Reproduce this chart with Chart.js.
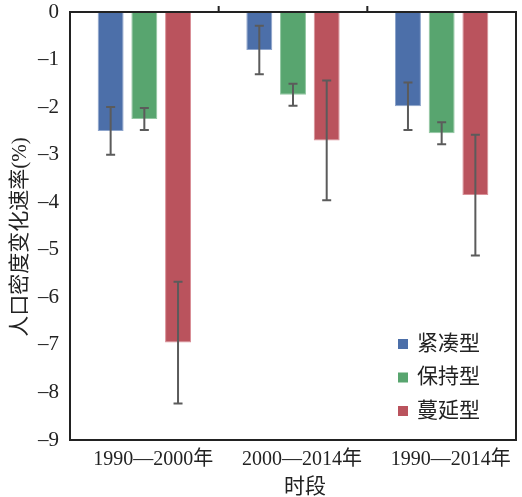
<!DOCTYPE html>
<html>
<head>
<meta charset="utf-8">
<script src="https://cdn.jsdelivr.net/npm/chart.js@4.4.1/dist/chart.umd.min.js"></script>
<style>
  html, body { margin: 0; padding: 0; background: #fff; }
  #wrap { width: 522px; height: 497px; }
</style>
</head>
<body>
<div id="wrap"><canvas id="chart" width="522" height="497"></canvas></div>
<script>
// periods on the x axis
const periods = ['1990\u20142000年', '2000\u20142014年', '1990\u20142014年'];
// series names
const seriesNames = ['紧凑型', '保持型', '蔓延型'];
// mean change rate (%) per series
const compactVals = [-2.5, -0.8, -1.98];
const keepVals = [-2.25, -1.74, -2.55];
const sprawlVals = [-6.95, -2.7, -3.85];
// error bar half-widths
const compactErr = [0.5, 0.51, 0.5];
const keepErr = [0.23, 0.23, 0.23];
const sprawlErr = [1.28, 1.26, 1.27];
// y ticks
const yTicks = [0, -1, -2, -3, -4, -5, -6, -7, -8, -9];

const yTitle = '人口密度变化速率(%)';
const xTitle = '时段';

const colors = ['#4c6fa9', '#58a56f', '#ba535d'];
const edges = ['#8ea5cc', '#93c7a2', '#d99098'];
const serif = "'Liberation Serif', 'Noto Sans CJK SC', serif";

const values = [compactVals, keepVals, sprawlVals];
const errors = [compactErr, keepErr, sprawlErr];

// error bars, drawn from the bar scales
const errorBars = {
  id: 'errorBars',
  afterDatasetsDraw(chart) {
    const ctx = chart.ctx;
    const y = chart.scales.y;
    ctx.save();
    ctx.strokeStyle = '#5b5b5b';
    ctx.lineWidth = 2;
    chart.data.datasets.forEach((ds, i) => {
      const meta = chart.getDatasetMeta(i);
      meta.data.forEach((bar, j) => {
        const v = ds.data[j], e = errors[i][j];
        const top = y.getPixelForValue(v + e);
        const bot = y.getPixelForValue(v - e);
        ctx.beginPath();
        ctx.moveTo(bar.x, top); ctx.lineTo(bar.x, bot);
        ctx.moveTo(bar.x - 4.5, top); ctx.lineTo(bar.x + 4.5, top);
        ctx.moveTo(bar.x - 4.5, bot); ctx.lineTo(bar.x + 4.5, bot);
        ctx.stroke();
      });
    });
    ctx.restore();
  }
};

// box, top ticks, titles and inner legend
const decor = {
  id: 'decor',
  afterDraw(chart) {
    const ctx = chart.ctx;
    const a = chart.chartArea;
    const x = chart.scales.x;
    ctx.save();
    ctx.strokeStyle = '#222';
    ctx.lineWidth = 2;
    ctx.beginPath();
    ctx.moveTo(a.left, a.top); ctx.lineTo(a.right, a.top);
    ctx.lineTo(a.right, a.bottom);
    for (let i = 0; i < periods.length - 1; i++) {
      const bx = (x.getPixelForValue(i) + x.getPixelForValue(i + 1)) / 2;
      ctx.moveTo(bx, a.top); ctx.lineTo(bx, a.top - 6);
    }
    ctx.stroke();

    ctx.fillStyle = '#222';
    ctx.font = '21px ' + serif;
    ctx.textAlign = 'center';
    ctx.textBaseline = 'middle';
    ctx.save();
    ctx.translate(20, 237);
    ctx.rotate(-Math.PI / 2);
    ctx.fillText(yTitle, 0, 0);
    ctx.restore();
    ctx.fillText(xTitle, (a.left + a.right) / 2 + 12, 487);

    ctx.textAlign = 'left';
    chart.data.datasets.forEach((ds, i) => {
      const cy = a.bottom - 96 + i * 33.5;
      ctx.fillStyle = ds.backgroundColor;
      ctx.fillRect(a.right - 118, cy - 5, 10, 10);
      ctx.fillStyle = '#222';
      ctx.fillText(ds.label, a.right - 99, cy);
    });
    ctx.restore();
  }
};

new Chart(document.getElementById('chart'), {
  type: 'bar',
  data: {
    labels: periods,
    datasets: seriesNames.map((name, i) => ({
      label: name,
      data: values[i],
      backgroundColor: colors[i],
      borderColor: edges[i],
      borderWidth: 1,
      borderSkipped: false,
      barPercentage: 0.77,
      categoryPercentage: 0.68
    }))
  },
  options: {
    responsive: false,
    animation: false,
    layout: { padding: { top: 12, right: 6, left: 0, bottom: 0 } },
    plugins: { legend: { display: false }, tooltip: { enabled: false } },
    scales: {
      x: {
        grid: { display: false, drawTicks: false },
        border: { color: '#222', width: 2 },
        ticks: { color: '#222', font: { family: serif, size: 20 }, padding: 8, labelOffset: 9, maxRotation: 0 },
        afterFit(s) { s.height = 57; s.paddingLeft = 0; s.paddingRight = 0; }
      },
      y: {
        min: -9, max: 0,
        grid: { display: false, drawTicks: false },
        border: { color: '#222', width: 2 },
        afterBuildTicks(s) { s.ticks = yTicks.map(v => ({ value: v })); },
        ticks: {
          color: '#222', font: { family: serif, size: 21 }, padding: 11,
          callback: v => String(v).replace('-', '\u2013')
        },
        afterFit(s) { s.width = 70; s.paddingTop = 0; s.paddingBottom = 0; }
      }
    }
  },
  plugins: [errorBars, decor]
});
</script>
</body>
</html>
